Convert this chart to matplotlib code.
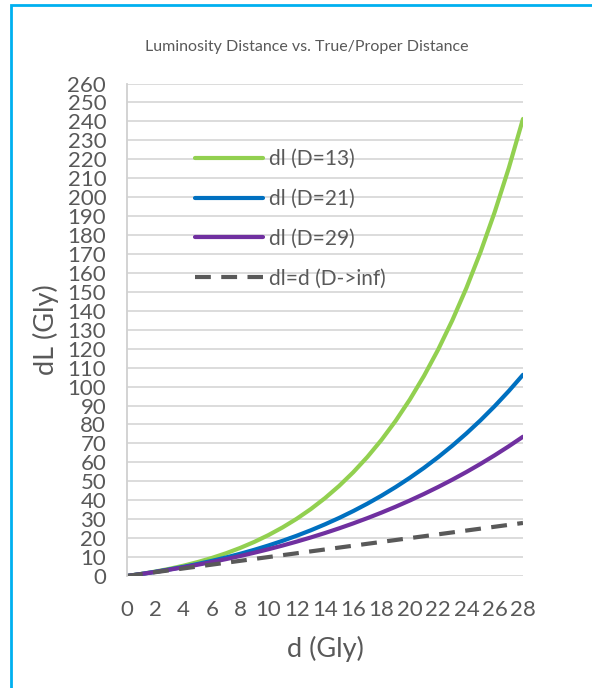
import matplotlib
matplotlib.use("Agg")
import matplotlib.pyplot as plt
from matplotlib.patches import Rectangle

plt.rcParams['font.family'] = ['Lato', 'DejaVu Sans']

# true / proper distance (Gly)
d = list(range(0, 29))

# luminosity distance (Gly)
dl_13 = [0, 1.08, 2.33, 3.78, 5.44, 7.35, 9.52, 11.99, 14.80, 17.98, 21.58,
         25.64, 30.20, 35.34, 41.10, 47.55, 54.78, 62.86, 71.88, 81.94, 93.15,
         105.62, 119.50, 134.92, 152.05, 171.05, 192.12, 215.46, 241.30]
dl_21 = [0, 1.05, 2.20, 3.46, 4.84, 6.34, 7.98, 9.77, 11.71, 13.82, 16.10,
         18.57, 21.25, 24.14, 27.27, 30.64, 34.28, 38.20, 42.42, 46.96, 51.84,
         57.08, 62.72, 68.77, 75.26, 82.22, 89.68, 97.67, 106.22]
dl_29 = [0, 1.04, 2.14, 3.33, 4.59, 5.94, 7.38, 8.91, 10.54, 12.28, 14.12,
         16.07, 18.15, 20.35, 22.69, 25.16, 27.78, 30.55, 33.48, 36.58, 39.86,
         43.32, 46.98, 50.83, 54.90, 59.20, 63.73, 68.50, 73.53]
dl_inf = [0, 1, 2, 3, 4, 5, 6, 7, 8, 9, 10, 11, 12, 13, 14, 15, 16, 17, 18,
          19, 20, 21, 22, 23, 24, 25, 26, 27, 28]

x_ticks = list(range(0, 29, 2))
y_ticks = list(range(0, 261, 10))

TEXT = '#595959'

fig = plt.figure(figsize=(5.92, 6.88), dpi=100)
ax = fig.add_axes([0.2145, 0.1628, 0.6689, 0.7158])

ax.plot(d, dl_13, color='#92D050', lw=3, label='dl (D=13)', solid_capstyle='round')
ax.plot(d, dl_21, color='#0070C0', lw=3, label='dl (D=21)', solid_capstyle='round')
ax.plot(d, dl_29, color='#7030A0', lw=3, label='dl (D=29)', solid_capstyle='round')
ax.plot(d, dl_inf, color='#595959', lw=3, ls=(0, (3.8, 2.5)), label='dl=d (D->inf)')

ax.set_xlim(0, 28)
ax.set_ylim(0, 260)
ax.set_xticks(x_ticks)
ax.set_yticks(y_ticks)
ax.tick_params(length=0, labelsize=16, labelcolor=TEXT)
ax.tick_params(axis='x', pad=17)
ax.tick_params(axis='y', pad=15)
ax.yaxis.grid(True, color='#D9D9D9', lw=1.3)
ax.set_axisbelow(True)
for s in ['top', 'right', 'bottom']:
    ax.spines[s].set_visible(False)
ax.spines['left'].set_color('#D0D0D0')
ax.spines['left'].set_linewidth(1.3)

ax.set_xlabel('d (Gly)', fontsize=19.5, color=TEXT, labelpad=12)
ax.set_ylabel('dL (Gly)', fontsize=19.5, color=TEXT, labelpad=6)
fig.text(0.519, 0.931, 'Luminosity Distance vs. True/Proper Distance',
         fontsize=11.5, color=TEXT, ha='center', va='center')

leg = ax.legend(loc='upper left', bbox_to_anchor=(0.125, 0.905), frameon=False,
                fontsize=15, labelcolor=TEXT, handlelength=3.25,
                handletextpad=0.3, labelspacing=0.95)

fig.add_artist(Rectangle((11 / 592, -0.1), 1.2, 1.1 - 5 / 688, transform=fig.transFigure,
                         fill=False, edgecolor='#00B0F0', lw=2))

fig.savefig('out.png', dpi=100)
